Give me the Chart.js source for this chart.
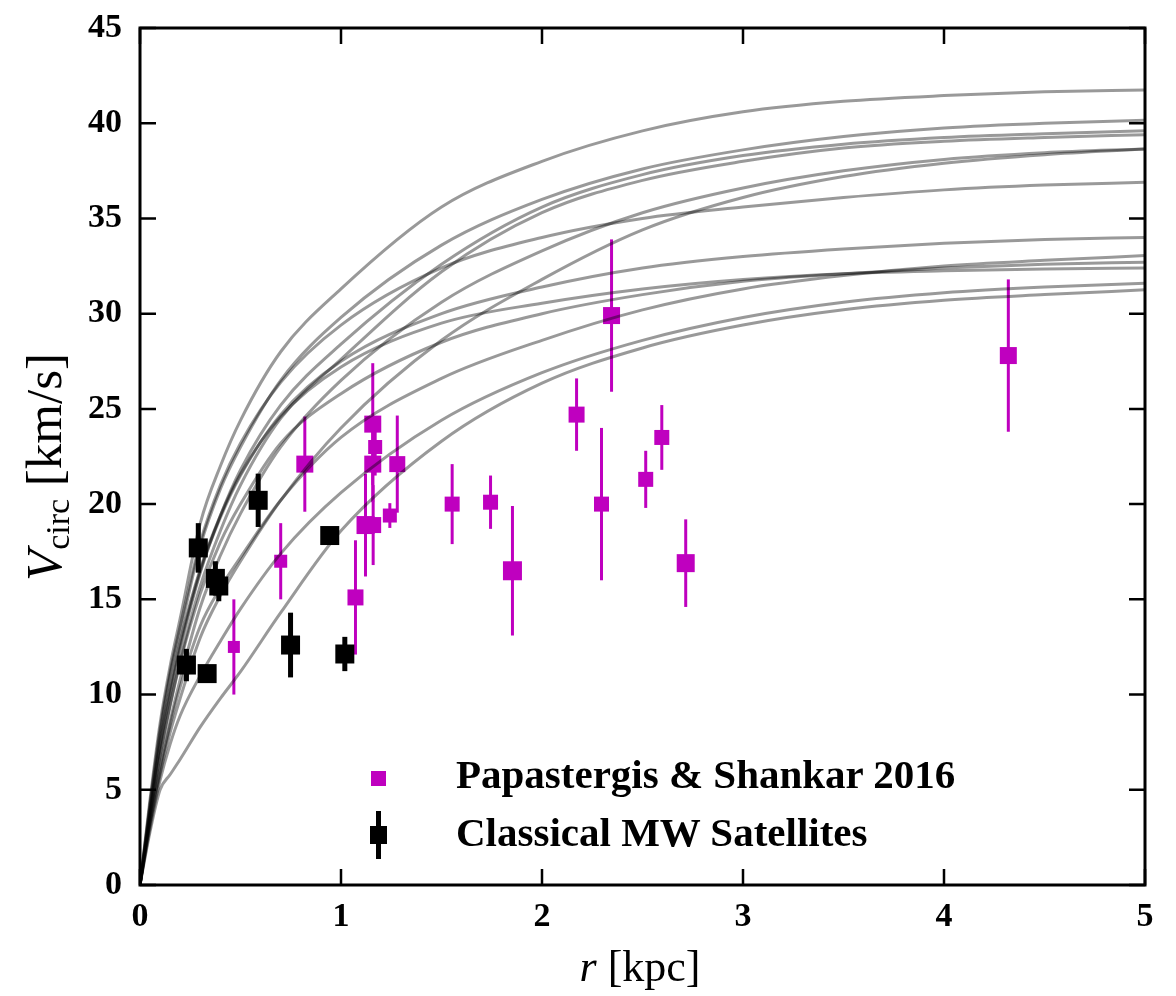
<!DOCTYPE html>
<html>
<head>
<meta charset="utf-8">
<script src="https://cdn.jsdelivr.net/npm/chart.js@4.4.1/dist/chart.umd.min.js"></script>
<style>
  body { margin: 0; background: #fff; }
  #wrap { position: relative; width: 1176px; height: 996px; }
  canvas { position: absolute; left: 0; top: 0; }
  .lbl { position: absolute; font-family: 'Liberation Serif', 'Times New Roman', serif; color: #000; white-space: nowrap; }
  .leg { position: absolute; font-family: 'Liberation Serif', 'Times New Roman', serif; font-weight: bold; font-size: 41px; color: #000; white-space: nowrap; line-height: 1; }
</style>
</head>
<body>
<div id="wrap">
  <canvas id="chart" width="1176" height="996"></canvas>
  <div class="lbl" id="ytitle" style="font-size:51px; left:46px; top:467px; transform: translate(-50%,-50%) rotate(-90deg);"><i>V</i><sub style="font-size:34px; vertical-align:-8px;">circ</sub> [km/s]</div>
  <div class="lbl" id="xtitle" style="font-size:44px; left:640px; top:966px; transform: translate(-50%,-50%);"><i>r</i> [kpc]</div>

  <div style="position:absolute; left:371px; top:771px; width:15px; height:15px; background:#bf00bf;"></div>
  <div class="leg" style="left:456px; top:754px;">Papastergis &amp; Shankar 2016</div>
  <div style="position:absolute; left:376px; top:811px; width:5px; height:48px; background:#000;"></div>
  <div style="position:absolute; left:370px; top:826px; width:17px; height:18px; background:#000;"></div>
  <div class="leg" style="left:456px; top:812px;">Classical MW Satellites</div>
</div>
<script>
const radii = [0, 0.05, 0.1, 0.15, 0.2, 0.3, 0.4, 0.5, 0.7, 1.0, 1.5, 2.0, 2.5, 3.0, 3.5, 4.0, 4.5, 5.0];

// model rotation curves (km/s), one per halo
const curveA  = [0, 4.5, 8.5, 11.5, 14.0, 19.0, 22.0, 24.4, 28.0, 31.3, 35.6, 38.0, 39.6, 40.6, 41.15, 41.45, 41.65, 41.75];
const curveB  = [0, 4.2, 8.0, 11.0, 13.3, 17.8, 20.8, 23.0, 26.5, 29.8, 33.6, 36.0, 37.6, 38.6, 39.3, 39.75, 40.0, 40.15];
const curveC  = [0, 3.8, 7.2, 10.0, 12.4, 16.4, 19.4, 21.8, 25.2, 28.4, 32.6, 35.6, 37.3, 38.3, 38.9, 39.25, 39.45, 39.6];
const curveD  = [0, 3.6, 6.8, 9.5, 11.8, 15.7, 18.6, 21.0, 24.5, 27.6, 32.2, 35.3, 37.0, 38.0, 38.7, 39.05, 39.25, 39.4];
const curveE  = [0, 4.3, 8.2, 11.2, 13.6, 18.0, 21.0, 23.2, 26.4, 29.4, 32.4, 34.0, 35.0, 35.6, 36.1, 36.5, 36.75, 36.9];
const curveG  = [0, 3.4, 6.2, 8.6, 10.8, 14.6, 17.3, 19.5, 23.0, 26.5, 30.6, 33.3, 35.3, 36.6, 37.5, 38.1, 38.45, 38.65];
const curveS  = [0, 3.2, 5.8, 8.0, 9.8, 13.0, 15.2, 17.0, 20.2, 24.0, 28.6, 31.8, 34.4, 36.1, 37.2, 37.9, 38.35, 38.65];
const curveM1 = [0, 3.9, 7.4, 10.2, 12.6, 16.5, 19.3, 21.5, 24.7, 27.5, 30.0, 31.4, 32.4, 33.0, 33.4, 33.7, 33.9, 34.0];
const curveM2 = [0, 4.0, 7.6, 10.4, 12.8, 16.6, 19.4, 21.6, 24.6, 27.2, 29.5, 30.55, 31.3, 31.8, 32.1, 32.25, 32.35, 32.4];
const curveM3 = [0, 3.6, 6.8, 9.4, 11.7, 15.3, 18.0, 20.0, 23.2, 25.8, 28.5, 30.0, 31.0, 31.7, 32.1, 32.4, 32.6, 32.7];
const curveM4 = [0, 3.3, 6.0, 8.4, 10.4, 13.6, 15.6, 17.2, 20.2, 23.5, 26.6, 28.6, 30.2, 31.3, 32.0, 32.5, 32.8, 33.05];
const curveL1 = [0, 3.0, 5.5, 7.4, 8.9, 11.0, 12.8, 14.5, 17.4, 20.6, 24.4, 26.9, 28.6, 29.8, 30.6, 31.1, 31.4, 31.6];
const curveL2 = [0, 2.8, 5.0, 5.8, 6.6, 8.3, 9.8, 11.2, 14.3, 18.6, 23.3, 26.35, 28.2, 29.4, 30.2, 30.7, 31.0, 31.25];
const curves = [curveA, curveB, curveC, curveD, curveE, curveG, curveS, curveM1, curveM2, curveM3, curveM4, curveL1, curveL2];

// Papastergis & Shankar 2016
const psR    = [0.467, 0.70, 0.82, 1.072, 1.122, 1.16, 1.158, 1.158, 1.17, 1.243, 1.28, 1.553, 1.744, 1.853, 2.172, 2.296, 2.346, 2.516, 2.596, 2.715, 4.32];
const psV    = [12.5, 17.0, 22.1, 15.1, 18.9, 18.9, 22.1, 24.2, 23.0, 19.4, 22.1, 20.0, 20.1, 16.5, 24.7, 20.0, 29.9, 21.3, 23.5, 16.9, 27.8];
const psErr  = [2.5, 2.0, 2.5, 3.0, 2.7, 2.1, 2.0, 3.2, 1.5, 0.65, 2.55, 2.1, 1.4, 3.4, 1.9, 4.0, 4.0, 1.5, 1.7, 2.3, 4.0];
const psSize = [12, 13, 17, 16, 18, 16, 17, 17, 14, 14, 16, 15, 15, 19, 16, 15, 17, 15, 15, 18, 17];

// classical Milky Way satellites
const mwR   = [0.231, 0.334, 0.29, 0.375, 0.392, 0.588, 0.749, 0.944, 1.019];
const mwV   = [11.55, 11.1, 17.7, 16.1, 15.7, 20.2, 12.6, 18.35, 12.13];
const mwErr = [0.85, 0.3, 1.3, 0.9, 0.8, 1.4, 1.7, 0.3, 0.9];

const xTicks = [0, 1, 2, 3, 4, 5];
const yTicks = [0, 5, 10, 15, 20, 25, 30, 35, 40, 45];

const magenta = '#bf00bf';
const serif = "'Liberation Serif', 'Times New Roman', serif";

const curveSets = curves.map(c => ({
    type: 'line',
    data: c.map((v, i) => ({ x: radii[i], y: v })),
    borderColor: 'rgba(0,0,0,0.4)',
    borderWidth: 3,
    pointRadius: 0,
    fill: false,
    cubicInterpolationMode: 'monotone',
    order: 0
}));

// error bars under the markers
const errorBars = {
    id: 'errorBars',
    beforeDatasetsDraw(chart) {
        const { ctx, scales: { x, y } } = chart;
        ctx.save();
        chart.data.datasets.forEach(ds => {
            if (!ds.errors) return;
            ctx.strokeStyle = ds.barColor;
            ctx.lineWidth = ds.barWidth;
            ds.data.forEach((p, i) => {
                const px = x.getPixelForValue(p.x);
                ctx.beginPath();
                ctx.moveTo(px, y.getPixelForValue(p.y - ds.errors[i]));
                ctx.lineTo(px, y.getPixelForValue(p.y + ds.errors[i]));
                ctx.stroke();
            });
        });
        ctx.restore();
    }
};

// thick box with inward ticks on all four sides
const frame = {
    id: 'frame',
    afterDraw(chart) {
        const { ctx, chartArea: a, scales: { x, y } } = chart;
        ctx.save();
        ctx.strokeStyle = '#000';
        ctx.lineWidth = 3;
        ctx.strokeRect(a.left, a.top, a.right - a.left, a.bottom - a.top);
        ctx.lineWidth = 2.5;
        const len = 16;
        xTicks.forEach(t => {
            const px = x.getPixelForValue(t);
            ctx.beginPath();
            ctx.moveTo(px, a.bottom); ctx.lineTo(px, a.bottom - len);
            ctx.moveTo(px, a.top); ctx.lineTo(px, a.top + len);
            ctx.stroke();
        });
        yTicks.forEach(t => {
            const py = y.getPixelForValue(t);
            ctx.beginPath();
            ctx.moveTo(a.left, py); ctx.lineTo(a.left + len, py);
            ctx.moveTo(a.right, py); ctx.lineTo(a.right - len, py);
            ctx.stroke();
        });
        ctx.restore();
    }
};

new Chart(document.getElementById('chart'), {
    type: 'scatter',
    data: {
        datasets: [
            ...curveSets,
            {
                data: psR.map((r, i) => ({ x: r, y: psV[i] })),
                errors: psErr, barColor: magenta, barWidth: 3,
                pointStyle: 'rect',
                pointRadius: psSize.map(s => s / Math.SQRT2),
                backgroundColor: magenta, borderWidth: 0,
                order: 5
            },
            {
                data: mwR.map((r, i) => ({ x: r, y: mwV[i] })),
                errors: mwErr, barColor: '#000', barWidth: 5,
                pointStyle: 'rect',
                pointRadius: 19 / Math.SQRT2,
                backgroundColor: '#000', borderWidth: 0,
                order: 5
            }
        ]
    },
    options: {
        responsive: false,
        animation: false,
        devicePixelRatio: 1,
        layout: { padding: { top: 28, right: 31, left: 0, bottom: 0 } },
        plugins: { legend: { display: false }, tooltip: { enabled: false } },
        scales: {
            x: {
                type: 'linear', min: 0, max: 5,
                afterFit: s => { s.height = 111; s.paddingLeft = 0; s.paddingRight = 0; },
                afterBuildTicks: s => { s.ticks = xTicks.map(v => ({ value: v })); },
                grid: { display: false, drawTicks: false },
                border: { display: false },
                ticks: { font: { family: serif, weight: 'bold', size: 34 }, color: '#000', padding: 12 }
            },
            y: {
                type: 'linear', min: 0, max: 45,
                afterFit: s => { s.width = 140; s.paddingTop = 0; s.paddingBottom = 0; },
                afterBuildTicks: s => { s.ticks = yTicks.map(v => ({ value: v })); },
                grid: { display: false, drawTicks: false },
                border: { display: false },
                ticks: { font: { family: serif, weight: 'bold', size: 34 }, color: '#000', padding: 18 }
            }
        }
    },
    plugins: [errorBars, frame]
});
</script>
</body>
</html>
